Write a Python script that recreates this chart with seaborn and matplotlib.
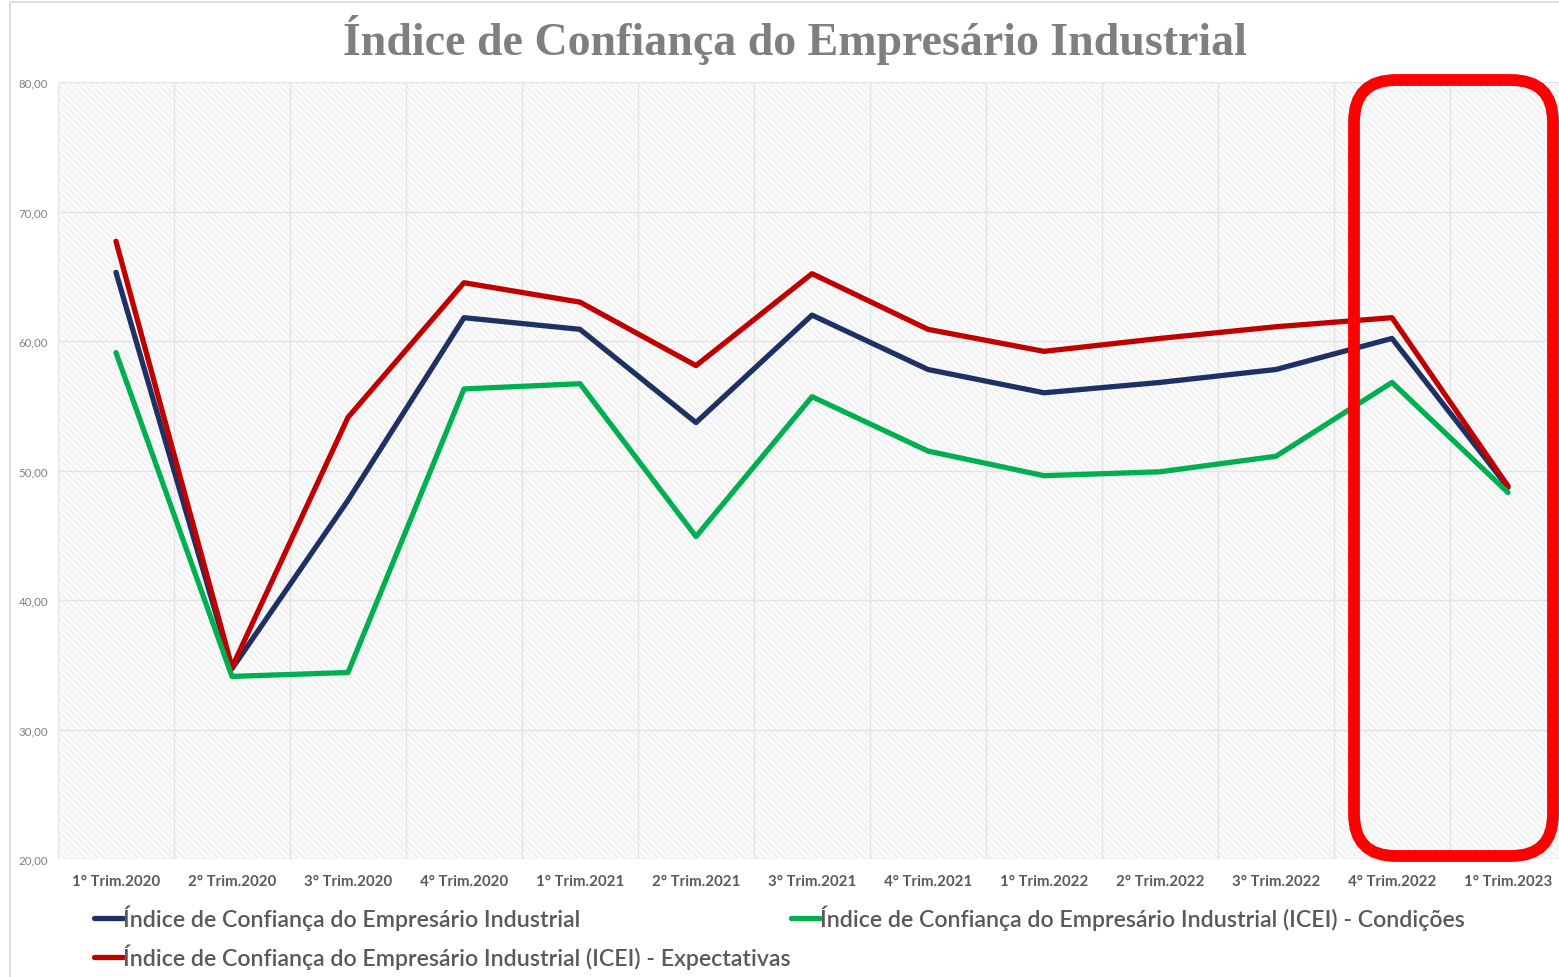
import matplotlib
matplotlib.use("Agg")
import matplotlib.pyplot as plt
import matplotlib.patches as mpatches
import matplotlib.transforms as mtransforms
import numpy as np
import pandas as pd
import seaborn as sns

# ---- data ----
trimestres = ["1° Trim.2020", "2° Trim.2020", "3° Trim.2020", "4° Trim.2020",
              "1° Trim.2021", "2° Trim.2021", "3° Trim.2021", "4° Trim.2021",
              "1° Trim.2022", "2° Trim.2022", "3° Trim.2022", "4° Trim.2022",
              "1° Trim.2023"]
icei = [65.3, 34.7, 47.7, 61.8, 60.9, 53.7, 62.0, 57.8, 56.0, 56.8, 57.8, 60.2, 48.7]
condicoes = [59.1, 34.1, 34.4, 56.3, 56.7, 44.9, 55.7, 51.5, 49.6, 49.9, 51.1, 56.8, 48.3]
expectativas = [67.7, 34.8, 54.1, 64.5, 63.0, 58.1, 65.2, 60.9, 59.2, 60.2, 61.1, 61.8, 48.8]

serie_icei = "Índice de Confiança do Empresário Industrial"
serie_exp = "Índice de Confiança do Empresário Industrial (ICEI) - Expectativas"
serie_cond = "Índice de Confiança do Empresário Industrial (ICEI) - Condições"
titulo = "Índice de Confiança do Empresário Industrial"
yticks = [20, 30, 40, 50, 60, 70, 80]

df = pd.concat([
    pd.DataFrame({"trim": trimestres, "valor": icei, "serie": serie_icei}),
    pd.DataFrame({"trim": trimestres, "valor": expectativas, "serie": serie_exp}),
    pd.DataFrame({"trim": trimestres, "valor": condicoes, "serie": serie_cond}),
], ignore_index=True)

palette = {serie_icei: "#1F3064", serie_exp: "#C00000", serie_cond: "#00B050"}

sns.set_theme(style="white")
plt.rcParams["font.family"] = ["Lato", "DejaVu Sans"]
plt.rcParams["hatch.linewidth"] = 0.45

W, H = 1559, 978
fig = plt.figure(figsize=(W / 100, H / 100), dpi=100)
fig.patch.set_facecolor("white")

# axes position in pixels
left, right, top, bottom = 58, 1566, 83, 860
ax = fig.add_axes([left / W, (H - bottom) / H, (right - left) / W, (bottom - top) / H])
ax.set_facecolor("#f9f9f9")
ax.add_patch(mpatches.Rectangle((0, 0), 1, 1, transform=ax.transAxes,
                                facecolor="#fafafa", edgecolor="#e4e4e4",
                                hatch="\\\\\\\\\\", lw=0, zorder=0))

sns.lineplot(data=df, x="trim", y="valor", hue="serie", palette=palette,
             sort=False, lw=3.8, ax=ax, legend=False,
             solid_capstyle="round", solid_joinstyle="round")

ax.set_xlim(-0.5, len(trimestres) - 0.5)
ax.set_ylim(20, 80)
ax.set_yticks(yticks)
ax.set_yticklabels([f"{v:.2f}".replace(".", ",") for v in yticks])
ax.set_xticks(range(len(trimestres)))
ax.set_xticklabels(trimestres)
ax.set_xticks(np.arange(-0.5, len(trimestres)), minor=True)
ax.set_xlabel("")
ax.set_ylabel("")

ax.set_axisbelow(True)
ax.grid(False)
ax.grid(True, axis="y", which="major", color="#e3e3e3", lw=1.0)
ax.grid(True, axis="x", which="minor", color="#e3e3e3", lw=1.0)
for s in ax.spines.values():
    s.set_visible(False)

ax.tick_params(axis="y", which="both", length=0, pad=7, labelsize=8.3, labelcolor="#808080")
ax.tick_params(axis="x", which="both", length=0, pad=11, labelsize=10.8, labelcolor="#595959")
for lab in ax.get_xticklabels():
    lab.set_fontweight("bold")

# title
fig.text(795 / W, 1 - 40 / H, titulo, ha="center", va="center",
         fontsize=33, fontweight="bold", color="#7f7f7f",
         family=["Liberation Serif", "DejaVu Serif"])

# legend
handles = [plt.Line2D([], [], color=palette[s], lw=3.8, solid_capstyle="round")
           for s in [serie_icei, serie_exp, serie_cond]]
leg = fig.legend(handles, [serie_icei, serie_exp, serie_cond], ncol=2,
                 loc="upper left", bbox_to_anchor=(94 / W, 1 - 906 / H),
                 frameon=False, handlelength=1.25, handletextpad=0.0,
                 columnspacing=0.0, labelspacing=0.55, borderaxespad=0,
                 borderpad=0, prop={"size": 16.7, "weight": "semibold"})
for t in leg.get_texts():
    t.set_color("#595959")

# outer light border of chart frame
fig.add_artist(mpatches.Rectangle((10, -10), W + 20, H + 10 - 3,
                                  transform=mtransforms.IdentityTransform(),
                                  fill=False, edgecolor="#d9d9d9", lw=1.2))

# red rounded highlight box
fig.add_artist(mpatches.FancyBboxPatch((1354, H - 857), 1553 - 1354, 857 - 81,
                                       boxstyle="round,pad=0,rounding_size=42",
                                       transform=mtransforms.IdentityTransform(),
                                       fill=False, edgecolor="#ff0000", lw=8.5))

fig.savefig("out.png", dpi=100)
